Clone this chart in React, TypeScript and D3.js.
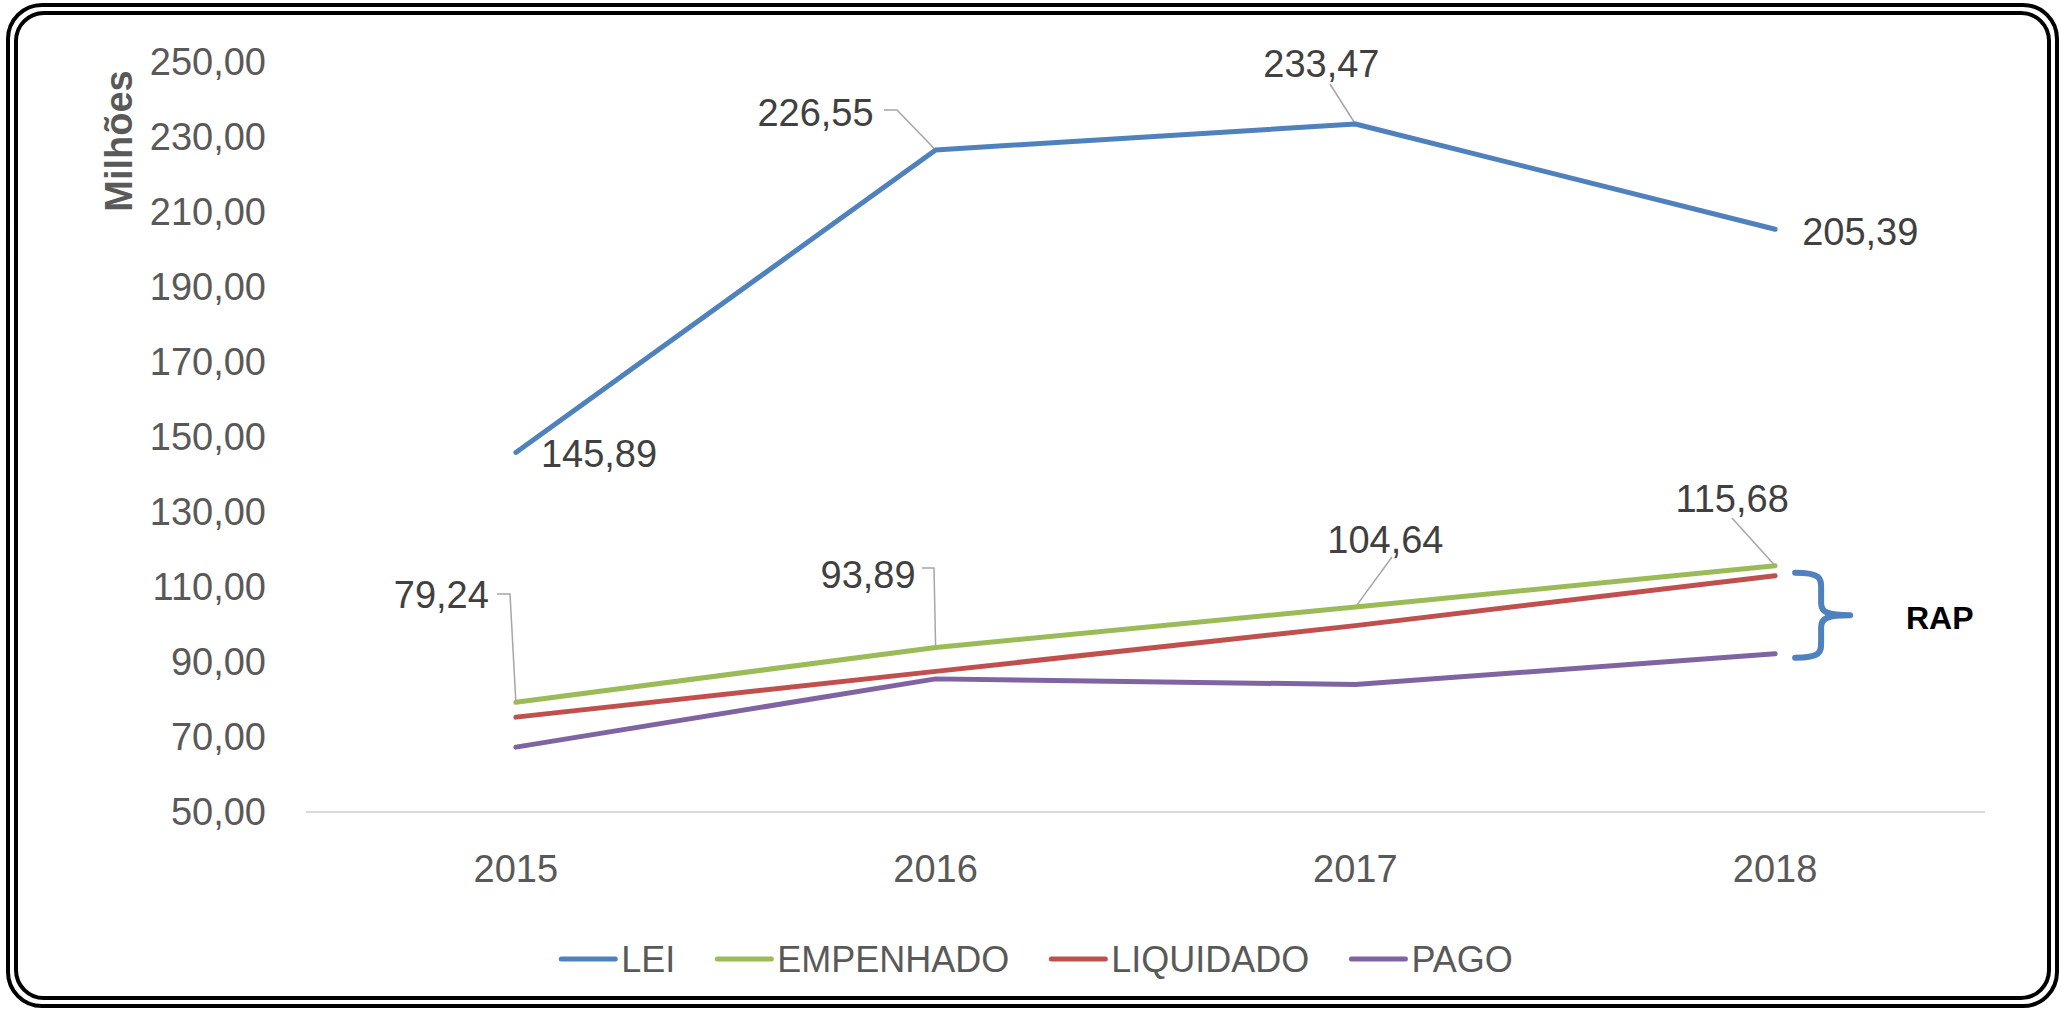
import React, { useEffect, useRef } from "react";
import * as d3 from "d3";

const years = ["2015", "2016", "2017", "2018"];
const lei = [145.89, 226.55, 233.47, 205.39];
const empenhado = [79.24, 93.89, 104.64, 115.68];
const liquidado = [75.3, 87.5, 99.7, 113.0];
const pago = [67.3, 85.5, 84.0, 92.2];
const yTicks = [50, 70, 90, 110, 130, 150, 170, 190, 210, 230, 250];
const seriesNames = ["LEI", "EMPENHADO", "LIQUIDADO", "PAGO"];
const colors = ["#4F81BD", "#9BBB59", "#C0504D", "#8064A2"];

const FONT = "'Liberation Sans', Arial, sans-serif";

const App = () => {
  const svgRef = useRef<SVGSVGElement>(null);

  useEffect(() => {
    document.body.style.margin = "0";
    const W = 2061;
    const H = 1009;
    const svg = d3.select(svgRef.current).attr("width", W).attr("height", H);
    svg.selectAll("*").remove();

    // frame (double rounded border)
    svg.append("rect").attr("x", 8).attr("y", 5).attr("width", 2049).attr("height", 1001)
      .attr("rx", 34).attr("fill", "white").attr("stroke", "black").attr("stroke-width", 4);
    svg.append("rect").attr("x", 16).attr("y", 13).attr("width", 2033).attr("height", 985)
      .attr("rx", 28).attr("fill", "none").attr("stroke", "black").attr("stroke-width", 4);

    const left = 306;
    const right = 1985;
    const x = d3.scalePoint().domain(years).range([left, right]).padding(0.5);
    const y = d3.scaleLinear().domain([50, 250]).range([812, 62]);
    const fmt = (v: number) => d3.format(".2f")(v).replace(".", ",");

    // baseline
    svg.append("line").attr("x1", left).attr("x2", right)
      .attr("y1", y(50)).attr("y2", y(50))
      .attr("stroke", "#D9D9D9").attr("stroke-width", 2);

    // y tick labels
    svg.selectAll(".ytick").data(yTicks).enter().append("text")
      .attr("x", 266).attr("y", (d) => y(d))
      .attr("dy", "0.35em").attr("text-anchor", "end")
      .attr("font-family", FONT).attr("font-size", 38).attr("fill", "#595959")
      .text((d) => fmt(d));

    // x tick labels
    svg.selectAll(".xtick").data(years).enter().append("text")
      .attr("x", (d) => x(d)!).attr("y", 869)
      .attr("dy", "0.35em").attr("text-anchor", "middle")
      .attr("font-family", FONT).attr("font-size", 38).attr("fill", "#595959")
      .text((d) => d);

    // axis title
    svg.append("text")
      .attr("transform", "translate(119,141) rotate(-90)")
      .attr("dy", "0.35em").attr("text-anchor", "middle")
      .attr("font-family", FONT).attr("font-size", 38).attr("font-weight", "bold")
      .attr("fill", "#595959").text("Milhões");

    const allSeries = [lei, empenhado, liquidado, pago];
    const line = d3.line<number>().x((d, i) => x(years[i])!).y((d) => y(d));

    // leader lines for data labels
    const leaders = [
      [[884, 110], [897, 110], [x("2016")!, y(lei[1])]],
      [[1330, 84], [x("2017")!, y(lei[2])]],
      [[497, 594], [510, 594], [x("2015")!, y(empenhado[0])]],
      [[922, 568], [934, 568], [x("2016")!, y(empenhado[1])]],
      [[1392, 557], [x("2017")!, y(empenhado[2])]],
      [[1732, 518], [x("2018")!, y(empenhado[3])]],
    ];
    leaders.forEach((pts) => {
      svg.append("path")
        .attr("d", d3.line()(pts as [number, number][]))
        .attr("fill", "none").attr("stroke", "#A6A6A6").attr("stroke-width", 1.5);
    });

    // lines (draw in reverse so LEI/EMPENHADO on top)
    [3, 2, 1, 0].forEach((s) => {
      svg.append("path")
        .attr("d", line(allSeries[s]))
        .attr("fill", "none").attr("stroke", colors[s])
        .attr("stroke-width", 5).attr("stroke-linecap", "round").attr("stroke-linejoin", "round");
    });

    // data labels
    const labelPos = [
      { v: lei[0], i: 0, dx: 25, dy: 1, anchor: "start" },
      { v: lei[1], i: 1, dx: -62, dy: -37, anchor: "end" },
      { v: lei[2], i: 2, dx: -34, dy: -60, anchor: "middle" },
      { v: lei[3], i: 3, dx: 27, dy: 2, anchor: "start" },
      { v: empenhado[0], i: 0, dx: -27, dy: -108, anchor: "end" },
      { v: empenhado[1], i: 1, dx: -20, dy: -73, anchor: "end" },
      { v: empenhado[2], i: 2, dx: 30, dy: -67, anchor: "middle" },
      { v: empenhado[3], i: 3, dx: -43, dy: -67, anchor: "middle" },
    ];
    labelPos.forEach((l) => {
      svg.append("text")
        .attr("x", x(years[l.i])! + l.dx).attr("y", y(l.v) + l.dy)
        .attr("dy", "0.35em").attr("text-anchor", l.anchor)
        .attr("font-family", FONT).attr("font-size", 38).attr("fill", "#404040")
        .text(fmt(l.v));
    });

    // RAP brace
    const bx0 = x("2018")! + 20;
    const bx1 = bx0 + 26;
    const bx2 = bx0 + 55;
    const by0 = y(liquidado[3]) - 3;
    const by1 = y(pago[3]) + 4;
    const bym = (by0 + by1) / 2;
    const brace =
      `M${bx0},${by0} C${bx1},${by0} ${bx1},${by0 + 6} ${bx1},${by0 + 15} ` +
      `L${bx1},${bym - 12} C${bx1},${bym - 3} ${bx1 + 6},${bym} ${bx2},${bym} ` +
      `M${bx2},${bym} C${bx1 + 6},${bym} ${bx1},${bym + 3} ${bx1},${bym + 12} ` +
      `L${bx1},${by1 - 15} C${bx1},${by1 - 6} ${bx1},${by1} ${bx0},${by1}`;
    svg.append("path").attr("d", brace).attr("fill", "none")
      .attr("stroke", "#4F81BD").attr("stroke-width", 6).attr("stroke-linecap", "round");
    svg.append("text")
      .attr("x", 1906).attr("y", bym + 3).attr("dy", "0.35em")
      .attr("font-family", FONT).attr("font-size", 32).attr("font-weight", "bold")
      .attr("fill", "black").text("RAP");

    // legend
    const legend = svg.append("g");
    let cx = 0;
    seriesNames.forEach((name, i) => {
      const g = legend.append("g").attr("transform", `translate(${cx},0)`);
      g.append("line").attr("x1", 0).attr("x2", 54).attr("y1", 0).attr("y2", 0)
        .attr("stroke", colors[i]).attr("stroke-width", 5).attr("stroke-linecap", "round");
      const t = g.append("text").attr("x", 60).attr("y", 0).attr("dy", "0.35em")
        .attr("font-family", FONT).attr("font-size", 36).attr("fill", "#595959").text(name);
      const tw = (t.node() as SVGTextElement).getComputedTextLength();
      cx += 60 + tw + 42;
    });
    const totalW = cx - 42;
    legend.attr("transform", `translate(${1037 - totalW / 2},959)`);
  }, []);

  return (
    <div>
      <svg ref={svgRef}></svg>
    </div>
  );
};

export default App;
